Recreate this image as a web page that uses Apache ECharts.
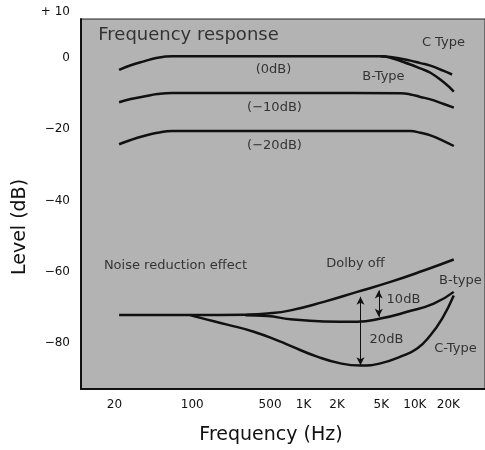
<!DOCTYPE html>
<html><head><meta charset="utf-8">
<script src="https://cdn.jsdelivr.net/npm/echarts@6/dist/echarts.min.js"></script>
<style>html,body{margin:0;padding:0;background:#fff}#c{width:485px;height:450px}</style>
</head><body><div id="c"></div>
<script>
// ---- Frequency response curves (Hz, dB) ----
const fr0B_f  = [22, 28, 36.7, 48.6, 66, 100, 1000, 4900, 6040, 9130, 11200, 13800, 18200, 22400];
const fr0B_db = [-3.3, -2.0, -0.9, 0.1, 0.5, 0.5, 0.5, 0.5, 0.1, -1.8, -2.9, -4.1, -6.8, -9.4];
const fr0C_f  = [4900, 6040, 9130, 11200, 13800, 18200, 21600];
const fr0C_db = [0.5, 0.3, -0.7, -1.4, -2.1, -3.6, -4.6];
const fr10_f  = [22, 28, 36.7, 48.6, 66, 100, 1000, 7430, 9130, 11200, 13800, 18200, 22400];
const fr10_db = [-12.4, -11.5, -10.8, -10.1, -9.8, -9.8, -9.8, -9.9, -10.2, -10.9, -11.6, -12.9, -13.9];
const fr20_f  = [22, 28, 36.7, 48.6, 66, 100, 1000, 9130, 11200, 13800, 18200, 22400];
const fr20_db = [-24.2, -23.0, -21.9, -21.0, -20.5, -20.5, -20.5, -20.5, -21.0, -21.7, -23.3, -24.7];
// ---- Noise reduction effect curves ----
const off_f   = [22, 100, 300, 471, 763, 1519, 3033, 6040, 12030, 22370];
const off_db  = [-72.2, -72.2, -72.1, -71.8, -70.9, -68.5, -65.7, -62.9, -59.7, -56.6];
const nrB_f   = [300, 471, 763, 1519, 3033, 4910, 8530, 14790, 22370];
const nrB_db  = [-72.3, -72.5, -73.4, -74.0, -74.1, -73.2, -71.3, -69.0, -65.7];
const nrC_f   = [96, 118.5, 206, 357, 620, 763, 1325, 2146, 3246, 4910, 7427, 10490, 13810, 17600, 22370];
const nrC_db  = [-72.2, -73.0, -74.9, -76.9, -79.7, -80.9, -83.9, -85.8, -86.4, -85.8, -83.9, -81.6, -77.9, -73.2, -66.7];
// ---- Arrows (10dB / 20dB) ----
const arrowFreq = [3246, 4740];
const arrowFrom = [-67.1, -65.3];
const arrowTo   = [-86.3, -72.7];
// ---- Tick labels ----
const xTicks = [20, 100, 500, 1000, 2000, 5000, 10000, 20000];
const xTickLabels = ['20', '100', '500', '1K', '2K', '5K', '10K', '20K'];
const yTicks = [10, 0, -20, -40, -60, -80];
const yTickLabels = ['+ 10', '0', '\u221220', '\u221240', '\u221260', '\u221280'];
// ---- Annotations ----
const noteText = ['Frequency response', 'C Type', '(0dB)', 'B-Type', '(\u221210dB)', '(\u221220dB)',
  'Noise reduction effect', 'Dolby off', 'B-type', '10dB', '20dB', 'C-Type'];
const noteFreq = [92.5, 18070, 537, 5222, 548, 548, 70.6, 2926, 25690, 7900, 5557, 23170];
const noteDb   = [6.3, 4.4, -3.2, -5.15, -13.8, -24.5, -58.4, -57.8, -62.6, -67.9, -79.1, -81.6];

const FONT = '"DejaVu Sans", "Liberation Sans", sans-serif';
const pts = (f, d) => f.map((v, i) => [v, d[i]]);
const lineSeries = (name, f, d) => ({
  name, type: 'line', data: pts(f, d), showSymbol: false, smooth: 0.5,
  lineStyle: { color: '#111', width: 2.5 }, silent: true, z: 3
});

const chart = echarts.init(document.getElementById('c'));
chart.setOption({
  animation: false,
  backgroundColor: '#fff',
  grid: { left: 81, top: 19, right: 0, bottom: 59, show: true, backgroundColor: '#b3b3b3',
          borderColor: '#222', borderWidth: 1 },
  xAxis: {
    type: 'log', min: 10, max: 42700, logBase: 10,
    name: 'Frequency (Hz)', nameLocation: 'middle', nameGap: 37,
    nameTextStyle: { fontFamily: FONT, fontSize: 19, color: '#111', padding: [0, 24, 0, 0] },
    axisLine: { show: true, onZero: false, lineStyle: { color: '#111', width: 2 } },
    axisTick: { show: false }, splitLine: { show: false }, minorTick: { show: false },
    axisLabel: {
      customValues: xTicks, margin: 10, color: '#111', fontFamily: FONT, fontSize: 12,
      formatter: v => { const i = xTicks.findIndex(t => Math.abs(t - v) / t < 1e-6); return i >= 0 ? xTickLabels[i] : ''; }
    }
  },
  yAxis: {
    type: 'value', min: -93, max: 11,
    name: 'Level (dB)', nameLocation: 'middle', nameGap: 42, nameRotate: 90,
    nameTextStyle: { fontFamily: FONT, fontSize: 19, color: '#111', padding: [0, 46, 0, 0] },
    axisLine: { show: true, onZero: false, lineStyle: { color: '#111', width: 2 } },
    axisTick: { show: false }, splitLine: { show: false },
    axisLabel: {
      customValues: yTicks, margin: 11, color: '#111', fontFamily: FONT, fontSize: 12,
      formatter: v => { const i = yTicks.indexOf(v); if (i < 0) return ''; return i === 0 ? '{up|' + yTickLabels[i] + '}' : yTickLabels[i]; },
      rich: { up: { padding: [0, 0, 22, 0], fontFamily: FONT, fontSize: 12, color: '#111' } }
    }
  },
  series: [
    lineSeries('0dB B-Type', fr0B_f, fr0B_db),
    lineSeries('0dB C-Type', fr0C_f, fr0C_db),
    lineSeries('-10dB', fr10_f, fr10_db),
    lineSeries('-20dB', fr20_f, fr20_db),
    lineSeries('Dolby off', off_f, off_db),
    lineSeries('NR B-type', nrB_f, nrB_db),
    Object.assign(lineSeries('NR C-Type', nrC_f, nrC_db), {
      markLine: {
        silent: true, symbol: ['arrow', 'arrow'], symbolSize: [6, 8],
        lineStyle: { color: '#111', width: 1, type: 'solid' }, label: { show: false },
        data: arrowFreq.map((f, i) => [{ coord: [f, arrowFrom[i]] }, { coord: [f, arrowTo[i]] }])
      }
    }),
    {
      name: 'notes', type: 'scatter', symbolSize: 0, silent: true, z: 5,
      data: noteText.map((t, i) => ({ name: t, value: [noteFreq[i], noteDb[i]],
        label: i === 0 ? { fontSize: 18 } : {} })),
      label: { show: true, position: 'inside', formatter: '{b}', color: '#111', fontFamily: FONT, fontSize: 13 }
    }
  ]
});
</script></body></html>
